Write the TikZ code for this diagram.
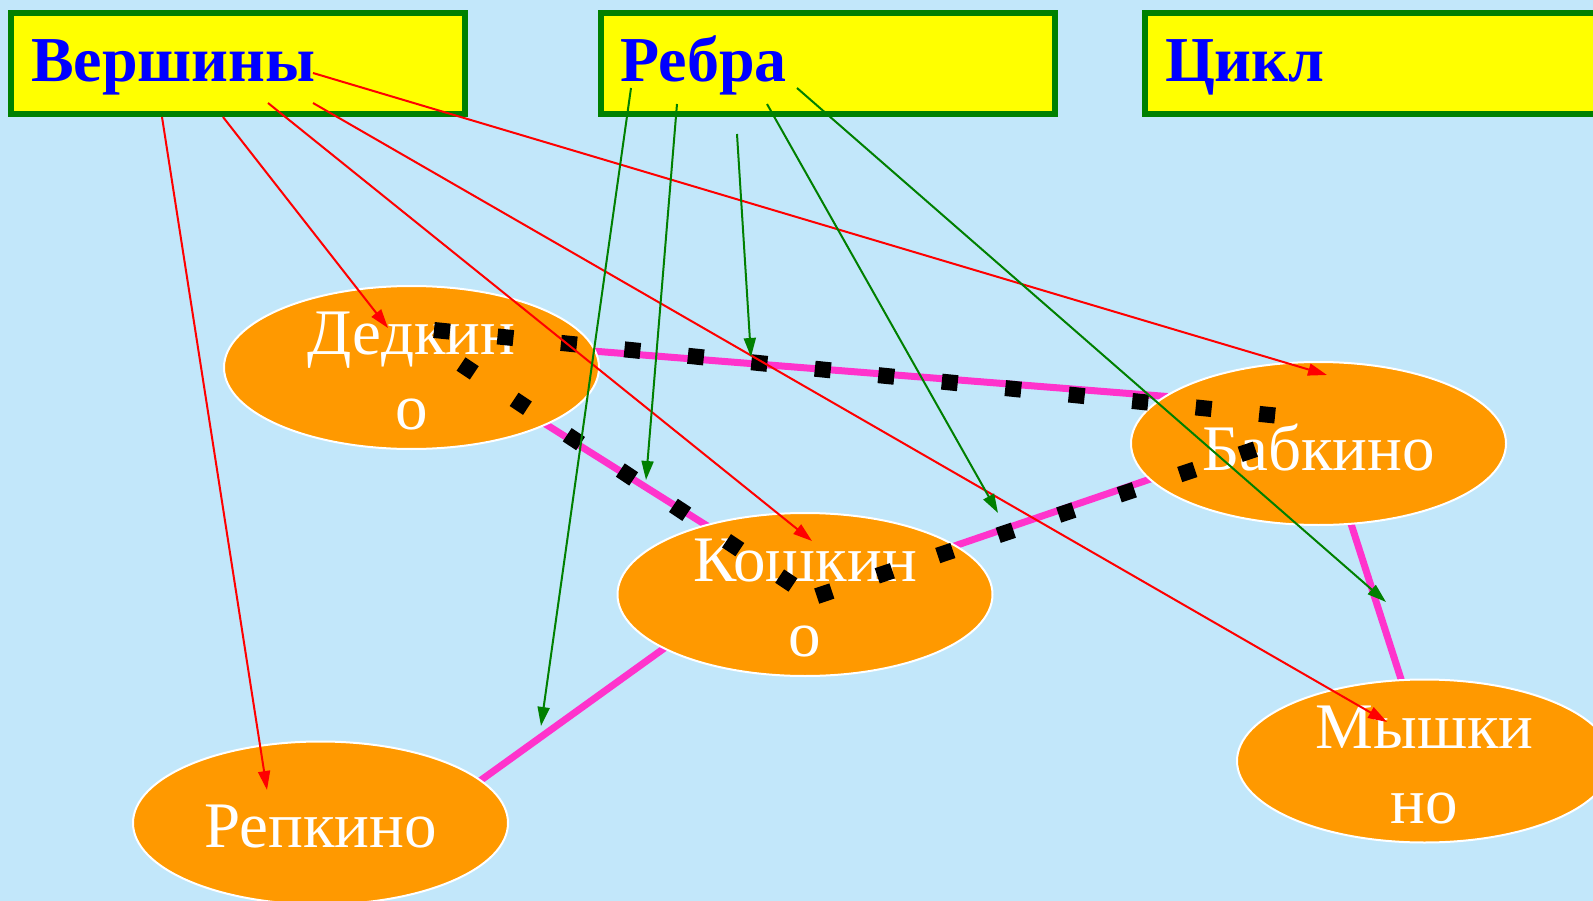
\documentclass[tikz,border=0pt]{standalone}
\usepackage{fontspec}
\setmainfont{Liberation Serif}
\usetikzlibrary{shapes.geometric, arrows.meta}
\definecolor{skyback}{HTML}{C2E7FA}
\definecolor{boxyellow}{HTML}{FFFF00}
\definecolor{boxgreen}{HTML}{008000}
\definecolor{townorange}{HTML}{FF9900}
\definecolor{roadpink}{HTML}{FF33CC}
\pgfdeclarelayer{sky}
\pgfdeclarelayer{roads}
\pgfsetlayers{sky,roads,main}
\tikzstyle{header} = [rectangle, draw=boxgreen, fill=boxyellow, line width=6pt, minimum width=454pt, minimum height=101pt, inner xsep=20pt, inner ysep=0pt, text width=414pt, align=left, text=blue, font=\fontsize{64}{74}\selectfont\bfseries, text height=52pt, text depth=15pt]
\tikzstyle{town} = [ellipse, draw=white, fill=townorange, line width=2pt, minimum width=375pt, minimum height=163pt, inner sep=0pt]
\tikzstyle{townname} = [text=white, align=center, font=\fontsize{65}{75}\selectfont, inner sep=0pt, yshift=-4pt]
\tikzstyle{road} = [roadpink, line width=7pt, shorten <=-4pt, shorten >=-4pt]
\tikzstyle{tour} = [black, line width=16pt, dash pattern=on 16pt off 47.8pt]
\tikzstyle{vertarrow} = [-{Triangle[length=19pt,width=12pt]}, red, line width=2pt]
\tikzstyle{edgearrow} = [-{Triangle[length=19pt,width=12pt]}, boxgreen, line width=2pt]

\begin{document}
\begin{tikzpicture}[x=1pt, y=-1pt]

\useasboundingbox (0,0) rectangle (1593,901);
\begin{pgfonlayer}{sky}
\fill[skyback] (0,0) rectangle (1593,901);
\end{pgfonlayer}

% headers
\node[header] (vert) at (238,63.5) {Вершины};
\node[header] (edges) at (827.5,63.5) {Ребра};
\node[header] (loop) at (1372,63.5) {Цикл};

% towns
\node[town, label={[townname]center:{Дедкин\\о}}] (ded) at (411.5,367.5) {};
\node[town, label={[townname]center:{Бабкино}}] (bab) at (1318.5,443.5) {};
\node[town, label={[townname]center:{Кошкин\\о}}] (kosh) at (805,594.5) {};
\node[town, label={[townname]center:{Репкино}}] (rep) at (320.5,823) {};
\node[town, label={[townname]center:{Мышки\\но}}] (mysh) at (1424.5,761) {};

% roads
\begin{pgfonlayer}{roads}
\draw[road] (ded.5) -- (bab.163);
\draw[road] (ded.-23) -- (kosh.145);
\draw[road] (kosh.18) -- (bab.-168);
\draw[road] (kosh.-159) -- (rep.15);
\draw[road] (bab.-68) -- (mysh.106);
\end{pgfonlayer}

% the cycle
\draw[tour] (434,330) -- (1280,416) -- (1262,447) -- (814,597);
\draw[tour] (461,364) -- (799,589);

% arrows from the headers
\coordinate (vR) at (162,117);  \coordinate (tR) at (267,790);
\coordinate (vD) at (223,117);  \coordinate (tD) at (388,328);
\coordinate (vK) at (268,103);  \coordinate (tK) at (812,541);
\coordinate (vM) at (313,103);  \coordinate (tM) at (1387,722);
\coordinate (vB) at (313,73);   \coordinate (tB) at (1327,375);
\coordinate (eKR) at (631,88);  \coordinate (tKR) at (541,726);
\coordinate (eDK) at (677,104); \coordinate (tDK) at (646,480);
\coordinate (eDB) at (737,134); \coordinate (tDB) at (751,357);
\coordinate (eKB) at (767,104); \coordinate (tKB) at (998,513);
\coordinate (eBM) at (797,88);  \coordinate (tBM) at (1386,602);

\draw[vertarrow] (vR) -- (tR);
\draw[vertarrow] (vD) -- (tD);
\draw[vertarrow] (vK) -- (tK);
\draw[vertarrow] (vM) -- (tM);
\draw[vertarrow] (vB) -- (tB);

\draw[edgearrow] (eKR) -- (tKR);
\draw[edgearrow] (eDK) -- (tDK);
\draw[edgearrow] (eDB) -- (tDB);
\draw[edgearrow] (eKB) -- (tKB);
\draw[edgearrow] (eBM) -- (tBM);

\end{tikzpicture}
\end{document}
